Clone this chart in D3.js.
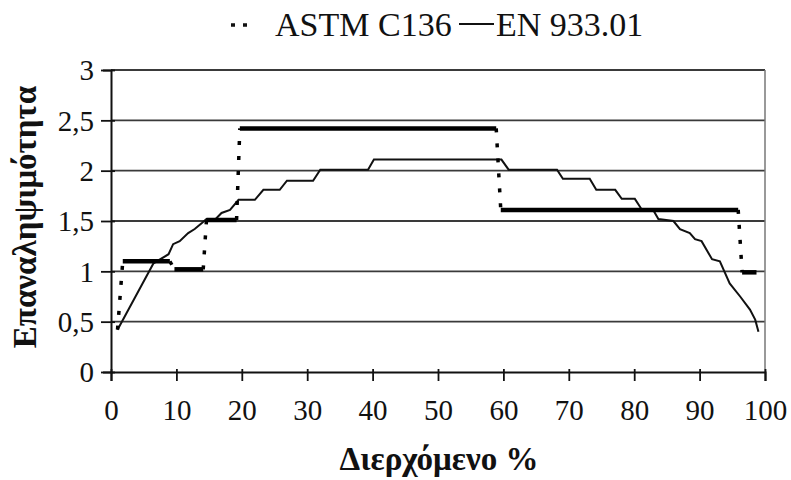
<!DOCTYPE html>
<html>
<head>
<meta charset="utf-8">
<script src="https://cdn.jsdelivr.net/npm/d3@7"></script>
<style>
  body { margin: 0; background: #fff; }
</style>
</head>
<body>
<svg id="viz"></svg>
<script>
const CANVAS_WIDTH = 791
const CANVAS_HEIGHT = 480
const FONT = "'Liberation Serif'"

const X_TICKS = [0, 10, 20, 30, 40, 50, 60, 70, 80, 90, 100]
const Y_TICKS = [0, 0.5, 1, 1.5, 2, 2.5, 3]
const Y_TICK_LABELS = ['0', '0,5', '1', '1,5', '2', '2,5', '3']

const SERIES_NAMES = ['ASTM C136', 'EN 933.01']

// ASTM C136: flat steps joined by dotted risers
const ASTM_X = [1.0, 1.8, 9.0, 9.7, 14.1, 14.6, 19.2, 19.7, 58.9, 59.6, 95.9, 96.5, 98.7]
const ASTM_Y = [0.42, 1.1, 1.1, 1.02, 1.02, 1.51, 1.51, 2.42, 2.42, 1.61, 1.61, 0.99, 0.99]

// EN 933.01: staircase curve
const EN_X = [1.0, 6.5, 8.8, 9.5, 10.5, 11.8, 12.8, 13.9, 14.6, 16.0, 16.9, 18.2, 19.5, 22.0, 23.3, 25.8, 26.9,
              30.9, 32.0, 39.3, 40.2, 59.7, 60.8, 68.2, 69.1, 73.2, 74.2, 77.1, 78.1, 80.1, 81.1, 82.9, 83.7,
              86.0, 87.0, 88.5, 89.3, 90.3, 91.9, 93.1, 94.6, 96.2, 97.7, 98.5, 99.0]
const EN_Y = [0.42, 1.08, 1.17, 1.27, 1.30, 1.38, 1.42, 1.48, 1.52, 1.52, 1.58, 1.61, 1.71, 1.71, 1.81, 1.81, 1.90,
              1.90, 2.01, 2.01, 2.11, 2.11, 2.01, 2.01, 1.92, 1.92, 1.81, 1.81, 1.72, 1.72, 1.62, 1.61, 1.52,
              1.50, 1.42, 1.38, 1.32, 1.30, 1.12, 1.10, 0.88, 0.75, 0.62, 0.52, 0.40]

const X_TITLE = 'Διερχόμενο %'
const Y_TITLE = 'Επαναληψιμότητα'

const LEFT = 111, RIGHT = 765, TOP = 70, BOTTOM = 372

const svg = d3.select('#viz')
    .attr('width', CANVAS_WIDTH)
    .attr('height', CANVAS_HEIGHT)

const x = d3.scaleLinear().domain([0, 100]).range([LEFT, RIGHT])
const y = d3.scaleLinear().domain([0, 3]).range([BOTTOM, TOP])

// gridlines
svg.append('g')
    .selectAll('line')
    .data(Y_TICKS.filter(d => d > 0))
    .enter().append('line')
        .attr('x1', LEFT).attr('x2', RIGHT)
        .attr('y1', d => y(d)).attr('y2', d => y(d))
        .style('stroke', '#3a3a3a')
        .style('stroke-width', 1.8)

// right border
svg.append('line')
    .attr('x1', RIGHT).attr('x2', RIGHT)
    .attr('y1', TOP).attr('y2', BOTTOM)
    .style('stroke', '#777')
    .style('stroke-width', 1.5)

// y axis
const yAxis = svg.append('g')
    .attr('transform', `translate(${LEFT},0)`)
    .call(d3.axisLeft(y).tickValues(Y_TICKS).tickSize(8)
        .tickFormat((d, i) => Y_TICK_LABELS[i]))
yAxis.select('.domain').style('stroke', '#111').style('stroke-width', 2)
yAxis.selectAll('.tick line').attr('x2', -10).attr('x1', 4).style('stroke', '#111').style('stroke-width', 1.8)
yAxis.selectAll('.tick text').attr('x', -17).attr('dy', '0.34em')
    .style('font-family', FONT).style('font-size', '29px').style('fill', '#111')

// x axis
const xAxis = svg.append('g')
    .attr('transform', `translate(0,${BOTTOM})`)
    .call(d3.axisBottom(x).tickValues(X_TICKS).tickSize(9))
xAxis.select('.domain').style('stroke', '#111').style('stroke-width', 2)
xAxis.selectAll('.tick line').attr('y1', -3).style('stroke', '#111').style('stroke-width', 1.8)
xAxis.selectAll('.tick text').attr('y', 27).attr('dy', '0.71em')
    .style('font-family', FONT).style('font-size', '29px').style('fill', '#111')

// EN 933.01
const enData = EN_X.map((v, i) => [v, EN_Y[i]])
svg.append('path')
    .datum(enData)
    .attr('d', d3.line().x(d => x(d[0])).y(d => y(d[1])))
    .style('fill', 'none')
    .style('stroke', '#111')
    .style('stroke-width', 2)

// ASTM C136
const astmData = ASTM_X.map((v, i) => [v, ASTM_Y[i]])
const segs = d3.pairs(astmData)
svg.append('g')
    .selectAll('line')
    .data(segs)
    .enter().append('line')
        .attr('x1', d => x(d[0][0])).attr('y1', d => y(d[0][1]))
        .attr('x2', d => x(d[1][0])).attr('y2', d => y(d[1][1]))
        .style('stroke', '#000')
        .style('stroke-width', d => d[0][1] === d[1][1] ? 4.5 : 3.5)
        .style('stroke-dasharray', d => d[0][1] === d[1][1] ? null : '4,11')

// legend
const legend = svg.append('g')
legend.append('line')
    .attr('x1', 231).attr('x2', 247).attr('y1', 25).attr('y2', 25)
    .style('stroke', '#111').style('stroke-width', 3.5).style('stroke-dasharray', '4,8')
legend.append('text')
    .attr('x', 275).attr('y', 36)
    .style('font-family', FONT).style('font-size', '34px').style('fill', '#111')
    .text(SERIES_NAMES[0])
legend.append('line')
    .attr('x1', 459).attr('x2', 494).attr('y1', 24).attr('y2', 24)
    .style('stroke', '#111').style('stroke-width', 2)
legend.append('text')
    .attr('x', 496).attr('y', 36)
    .style('font-family', FONT).style('font-size', '34px').style('fill', '#111')
    .text(SERIES_NAMES[1])

// axis titles
svg.append('text')
    .attr('x', 439).attr('y', 470)
    .attr('text-anchor', 'middle')
    .style('font-family', FONT).style('font-size', '33px').style('font-weight', 'bold').style('fill', '#111')
    .text(X_TITLE)

svg.append('text')
    .attr('transform', `translate(36,${(TOP + BOTTOM) / 2 - 4}) rotate(-90)`)
    .attr('text-anchor', 'middle')
    .style('font-family', FONT).style('font-size', '33px').style('font-weight', 'bold').style('fill', '#111')
    .text(Y_TITLE)
</script>
</body>
</html>
